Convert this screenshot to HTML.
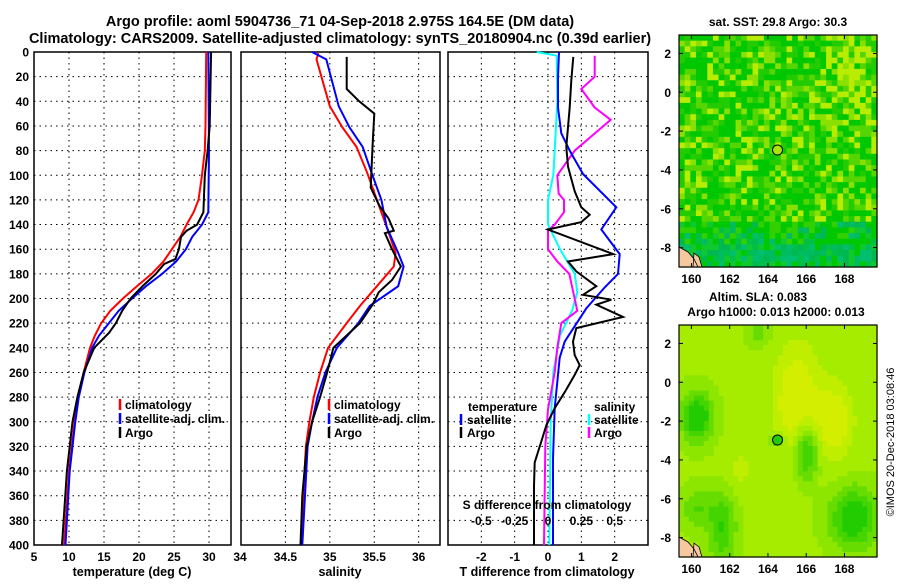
<!DOCTYPE html>
<html><head><meta charset="utf-8">
<style>
html,body{margin:0;padding:0;background:#fff;}
body{width:900px;height:580px;overflow:hidden;font-family:"Liberation Sans",sans-serif;}
svg text{font-family:"Liberation Sans",sans-serif;font-weight:bold;}
svg text.normal{font-weight:normal;}
</style></head>
<body>
<svg id="fig" width="900" height="580" viewBox="0 0 900 580" xmlns="http://www.w3.org/2000/svg">
<text x="340" y="26" font-size="14.5" text-anchor="middle">Argo profile: aoml 5904736_71 04-Sep-2018 2.975S 164.5E (DM data)</text>
<text x="340" y="43" font-size="14.5" text-anchor="middle">Climatology: CARS2009. Satellite-adjusted climatology: synTS_20180904.nc (0.39d earlier)</text>
<g id="layer"></g>
</svg>
<script>
// ---- data ----
const depthTicks=[0,20,40,60,80,100,120,140,160,180,200,220,240,260,280,300,320,340,360,380,400];
const tempTicks=[5,10,15,20,25,30];
const salTicks=[34,34.5,35,35.5,36];
const tdiffTicks=[-2,-1,0,1,2];
const sdiffTicks=[-0.5,-0.25,0,0.25,0.5];
const sdiffLabels=["-0.5","-0.25","0","0.25","0.5"];

const tClimDepth=[0,60,80,100,120,130,140,150,160,170,180,190,200,210,220,230,240,260,280,300,340,400];
const tClimVal=[29.6,29.5,29.4,29.0,28.5,27.8,26.8,25.9,24.7,23.5,21.8,19.7,17.7,15.9,14.6,13.7,13.0,12.1,11.3,10.8,10.0,9.3];
const tSatDepth=[0,80,130,140,150,160,170,180,190,200,210,220,230,240,260,280,300,340,400];
const tSatVal=[29.9,30.0,29.9,29.0,27.6,26.7,25.3,23.3,21.0,19.0,17.1,15.7,14.3,13.3,12.2,11.4,10.9,10.1,9.5];
const tArgoDepth=[0,60,80,100,130,140,145,150,160,168,172,180,190,200,210,220,228,240,260,280,300,340,400];
const tArgoVal=[30.3,30.1,29.8,29.4,29.2,28.3,26.8,26.0,25.7,25.2,23.6,22.4,20.5,18.8,17.6,16.7,15.7,13.6,12.1,11.2,10.5,9.7,9.0];

const sClimDepth=[1,6,44,61,77,98,120,142,163,174,190,206,220,240,260,280,300,320,360,400];
const sClimVal=[34.87,34.85,35.0,35.14,35.30,35.42,35.53,35.64,35.74,35.72,35.53,35.34,35.19,34.98,34.89,34.82,34.77,34.73,34.7,34.68];
const sSatDepth=[0,6,44,61,77,98,120,142,163,174,190,206,220,240,260,280,300,320,360,400];
const sSatVal=[34.8,34.96,35.1,35.22,35.37,35.47,35.58,35.64,35.77,35.83,35.77,35.45,35.32,35.08,34.95,34.86,34.8,34.75,34.72,34.69];
const sArgoDepth=[4,30,40,50,77,110,125,135,145,147,160,174,185,195,205,220,240,260,280,300,320,360,400];
const sArgoVal=[35.19,35.19,35.33,35.5,35.48,35.46,35.56,35.66,35.72,35.62,35.70,35.80,35.70,35.55,35.48,35.34,35.04,34.97,34.89,34.8,34.74,34.69,34.67];

const dTSatDepth=[0,20,45,66,80,99,126,144,164,180,191,208,235,248,262,289,330,400];
const dTSatVal=[0.33,0.3,0.3,0.4,0.65,1.05,2.05,1.6,2.15,2.1,1.7,1.15,0.5,0.35,0.3,0.2,0.15,0.15];
const dTArgoDepth=[4,23,45,61,77,93,113,126,132,138,144,164,170,178,190,197,201,205,215,224,235,246,254,262,276,289,303,316,333,352,387,400];
const dTArgoVal=[0.76,0.7,0.65,0.6,0.55,0.6,0.8,1.0,1.25,1.0,0.0,1.96,0.6,0.85,1.45,1.05,1.9,1.45,2.25,0.85,0.75,0.8,0.95,0.8,0.5,0.2,-0.05,-0.2,-0.4,-0.42,-0.42,-0.42];
const dSSatDepth=[0,3,40,80,100,120,140,160,180,195,210,230,260,300,400];
const dSSatVal=[-0.085,0.065,0.07,0.05,0.04,0.0,0.0,0.09,0.2,0.22,0.18,0.09,0.04,0.02,0.01];
const dSArgoDepth=[3,20,30,45,55,80,100,115,120,130,140,145,160,170,180,195,210,220,240,260,290,320,400];
const dSArgoVal=[0.35,0.35,0.25,0.35,0.47,0.2,0.07,0.08,0.12,0.12,0.05,0.0,0.0,0.07,0.16,0.19,0.22,0.1,0.07,0.05,0.0,-0.02,-0.03];

// SLA map features (lon, lat, lon-width, lat-width, strength; negative = yellower)
const slaBlobLon=[160.3,166.0,168.5,161.6,160.3,164.5,163.5,167.5,165.5,162.5];
const slaBlobLat=[-1.8,-3.6,-7.0,-7.5,-6.5,-3.0,2.5,-2.0,-1.0,-4.5];
const slaBlobSx=[0.8,0.6,1.2,0.7,0.8,0.35,0.6,1.0,1.2,0.8];
const slaBlobSy=[1.2,1.4,1.5,1.8,1.0,0.35,0.6,2.0,3.0,1.2];
const slaBlobAmp=[0.9,0.8,0.85,0.6,0.4,0.55,0.3,-0.45,-0.5,-0.2];

// ---- helpers ----
const NS='http://www.w3.org/2000/svg';
const layer=document.getElementById('layer');
function mk(tag,attrs,parent){const e=document.createElementNS(NS,tag);for(const k in attrs)e.setAttribute(k,attrs[k]);(parent||layer).appendChild(e);return e;}
const Y0=52,Y1=545;
function yD(d){return Y0+d*(Y1-Y0)/400;}
function lin(d0,d1,r0,r1){return v=>r0+(v-d0)*(r1-r0)/(d1-d0);}
const xT=lin(5,33.14,34,231);
const xS=lin(34,36.24,241,440);
const xdT=lin(-3,3,448,648);
const xdS=lin(-0.75,0.75,448,648);

function panel(name,x0,x1,xticks,xfun,labels){
  const g=mk('g',{});
  
  
  depthTicks.forEach(d=>{if(d>0&&d<400){const l=mk('line',{x1:x0,x2:x1,y1:yD(d),y2:yD(d),stroke:'#000','stroke-width':1,'stroke-dasharray':'1.5,4'},g);}});
  xticks.forEach(t=>{const x=xfun(t);if(x>x0+1&&x<x1-1){const l=mk('line',{x1:x,x2:x,y1:Y0,y2:Y1,stroke:'#000','stroke-width':1,'stroke-dasharray':'1.5,4'},g);}});
  const r=mk('rect',{x:x0,y:Y0,width:x1-x0,height:Y1-Y0,fill:'none',stroke:'#000','stroke-width':1.5},g);
  
  if(labels){xticks.forEach((t,i)=>{const tx=mk('text',{x:xfun(t),y:561,'font-size':12,'text-anchor':'middle'},g);tx.textContent=labels[i];});}
  return g;
}
function series(g,name,xs,ds,xfun,color,w){
  const pts=xs.map((v,i)=>xfun(v).toFixed(1)+','+yD(ds[i]).toFixed(1)).join(' ');
  const p=mk('polyline',{points:pts,fill:'none',stroke:color,'stroke-width':w||2,'stroke-linejoin':'miter'},g);
  
  
}
function txt(g,name,x,y,s,size,anchor){const t=mk('text',{x:x,y:y,'font-size':size||12,'text-anchor':anchor||'start'},g);t.textContent=s;return t;}
function legMark(g,name,x,y,color){const l=mk('line',{x1:x,x2:x,y1:y-10,y2:y+1,stroke:color,'stroke-width':2.5},g);}

const yax=mk('g',{});


depthTicks.forEach(d=>{txt(yax,'y-tick-label',29,yD(d)+4.5,String(d),12,'end');});

// panel 1 temperature
const p1=panel('temperature-panel',34,231,tempTicks,xT,tempTicks.map(String));
txt(p1,'x-tick-label',240,561,'34',12,'middle');
series(p1,'temp-climatology-line',tClimVal,tClimDepth,xT,'#ff0000');
series(p1,'temp-satellite-line',tSatVal,tSatDepth,xT,'#0000ff');
series(p1,'temp-argo-line',tArgoVal,tArgoDepth,xT,'#000000');
txt(p1,'x-axis-title',132,576,'temperature (deg C)',12.5,'middle');
legMark(p1,'legend-mark-climatology',120,409,'#ff0000');txt(p1,'legend-climatology',125,409,'climatology');
legMark(p1,'legend-mark-satellite',120,423,'#0000ff');txt(p1,'legend-satellite',125,423,'satellite-adj. clim.');
legMark(p1,'legend-mark-argo',120,437,'#000');txt(p1,'legend-argo',125,437,'Argo');

// panel 2 salinity
const p2=panel('salinity-panel',241,440,salTicks,xS,["","34.5","35","35.5","36"]);
series(p2,'sal-climatology-line',sClimVal,sClimDepth,xS,'#ff0000');
series(p2,'sal-satellite-line',sSatVal,sSatDepth,xS,'#0000ff');
series(p2,'sal-argo-line',sArgoVal,sArgoDepth,xS,'#000000');
txt(p2,'x-axis-title',340,576,'salinity',12.5,'middle');
legMark(p2,'legend-mark-climatology',329,409,'#ff0000');txt(p2,'legend-climatology',334,409,'climatology');
legMark(p2,'legend-mark-satellite',329,423,'#0000ff');txt(p2,'legend-satellite',334,423,'satellite-adj. clim.');
legMark(p2,'legend-mark-argo',329,437,'#000');txt(p2,'legend-argo',334,437,'Argo');

// panel 3 differences
const p3=panel('difference-panel',448,648,tdiffTicks,xdT,tdiffTicks.map(String));
series(p3,'sdiff-satellite-line',dSSatVal,dSSatDepth,xdS,'#00ffff');
series(p3,'sdiff-argo-line',dSArgoVal,dSArgoDepth,xdS,'#ff00ff');
series(p3,'tdiff-satellite-line',dTSatVal,dTSatDepth,xdT,'#0000ff');
series(p3,'tdiff-argo-line',dTArgoVal,dTArgoDepth,xdT,'#000000');
txt(p3,'s-diff-axis-title',547,509,'S difference from climatology',12,'middle');
sdiffTicks.forEach((t,i)=>txt(p3,'s-diff-tick-label',xdS(t),525,sdiffLabels[i],12,'middle'));
txt(p3,'x-axis-title',547,576,'T difference from climatology',12.5,'middle');
txt(p3,'legend-temperature-title',468,411,'temperature');
legMark(p3,'legend-mark-t-satellite',461,424,'#0000ff');txt(p3,'legend-t-satellite',467,424,'satellite');
legMark(p3,'legend-mark-t-argo',461,437,'#000');txt(p3,'legend-t-argo',467,437,'Argo');
txt(p3,'legend-salinity-title',594,411,'salinity');
legMark(p3,'legend-mark-s-satellite',589,424,'#00ffff');txt(p3,'legend-s-satellite',594,424,'satellite');
legMark(p3,'legend-mark-s-argo',589,437,'#ff00ff');txt(p3,'legend-s-argo',594,437,'Argo');

// ---- maps ----
const LON0=159.35,LON1=169.7,LAT0=2.95,LAT1=-9.0;
const mapLonTicks=[160,162,164,166,168];
const mapLatTicks=[2,0,-2,-4,-6,-8];
function hash(i,j){let h=(i*374761393+j*668265263)>>>0;h=((h^(h>>>13))*1274126177)>>>0;return ((h^(h>>>16))>>>0)/4294967295;}
function mapFrame(name,x0,y0,x1,y1,cellFn,nx,ny){
  const g=mk('g',{});
  
  
  const cw=(x1-x0)/nx,ch=(y1-y0)/ny;
  const lx=lin(LON0,LON1,x0,x1),ly=lin(LAT0,LAT1,y0,y1);
  for(let j=0;j<ny;j++)for(let i=0;i<nx;i++){
    const lon=LON0+(i+0.5)/nx*(LON1-LON0),lat=LAT0+(j+0.5)/ny*(LAT1-LAT0);
    mk('rect',{x:(x0+i*cw).toFixed(2),y:(y0+j*ch).toFixed(2),width:(cw+0.6).toFixed(2),height:(ch+0.6).toFixed(2),fill:cellFn(i,j,lon,lat)},g);
  }
  const land=mk('path',{d:`M${x0} ${y1-20} l9 5 l6 7 l4 8 l-19 0 Z M${x0+15} ${y1-14} l5 4 l3 10 l-9 0 Z`,fill:'#f5c8a0',stroke:'#000','stroke-width':0.8},g);
  
  const fr=mk('rect',{x:x0,y:y0,width:x1-x0,height:y1-y0,fill:'none',stroke:'#000','stroke-width':1.2},g);
  
  mapLonTicks.forEach(t=>{mk('line',{x1:lx(t),x2:lx(t),y1:y0,y2:y0+4,stroke:'#000'},g);mk('line',{x1:lx(t),x2:lx(t),y1:y1,y2:y1-4,stroke:'#000'},g);txt(g,'map-lon-label',lx(t),y1+16,String(t),12,'middle');});
  mapLatTicks.forEach(t=>{mk('line',{x1:x0,x2:x0+4,y1:ly(t),y2:ly(t),stroke:'#000'},g);mk('line',{x1:x1,x2:x1-4,y1:ly(t),y2:ly(t),stroke:'#000'},g);txt(g,'map-lat-label',x0-8,ly(t)+4.5,String(t),12,'end');});
  return {g,lx,ly};
}
const m1=mapFrame('sst-map',679,35,877,267,(i,j,lon,lat)=>{
  const h=hash(i,j);
  if(lat<-6.8){
    const p=['#00b850','#00c048','#00c800','#00bb60','#10c830','#00c070'];
    if(lat<-7.8)return p[Math.floor(h*6)];
    return h<0.5?p[Math.floor(h*12)]:(h<0.8?'#00c800':'#33d000');
  }
  let warm=0.0;
  if(lon>166&&lat>-2)warm=0.25*Math.min(1,(lon-166)/2)*Math.min(1,(lat+2)/2);
  if(lat<-3&&lat>-5.5&&lon>161.5&&lon<164.5)warm+=0.08;
  const v=h+warm;
  if(v<0.35)return '#00c800';if(v<0.55)return '#22cc00';if(v<0.72)return '#55d600';if(v<0.87)return '#8ae000';return '#b8ec00';
},35,41);
txt(m1.g,'sst-map-title',778,26,'sat. SST: 29.8 Argo: 30.3',12,'middle');
const c1=mk('circle',{cx:m1.lx(164.5),cy:m1.ly(-2.975),r:5,fill:'#a8e800',stroke:'#000','stroke-width':1},m1.g);


const m2=mapFrame('sla-map',679,325,877,557,(i,j,lon,lat)=>{
  let v=0.35;
  for(let k=0;k<slaBlobLon.length;k++){const dx=(lon-slaBlobLon[k])/slaBlobSx[k],dy=(lat-slaBlobLat[k])/slaBlobSy[k];v+=slaBlobAmp[k]*Math.exp(-(dx*dx+dy*dy));}
  if(v<0.05)return '#d4ee00';if(v<0.2)return '#c0ee00';if(v<0.38)return '#a6ec00';if(v<0.55)return '#8ce600';if(v<0.75)return '#66dc00';if(v<0.95)return '#44d400';return '#22cc00';
},40,46);
txt(m2.g,'sla-map-title-1',758,301,'Altim. SLA: 0.083',12,'middle');
txt(m2.g,'sla-map-title-2',776,316,'Argo h1000: 0.013 h2000: 0.013',12,'middle');
const c2=mk('circle',{cx:m2.lx(164.5),cy:m2.ly(-2.975),r:5,fill:'#22cc00',stroke:'#000','stroke-width':1},m2.g);

const cr=txt(layer,'copyright-timestamp',0,0,'©IMOS 20-Dec-2018 03:08:46',11,'middle');
cr.setAttribute('class','normal');
cr.setAttribute('transform','translate(894,442) rotate(-90)');
</script>
</body></html>
